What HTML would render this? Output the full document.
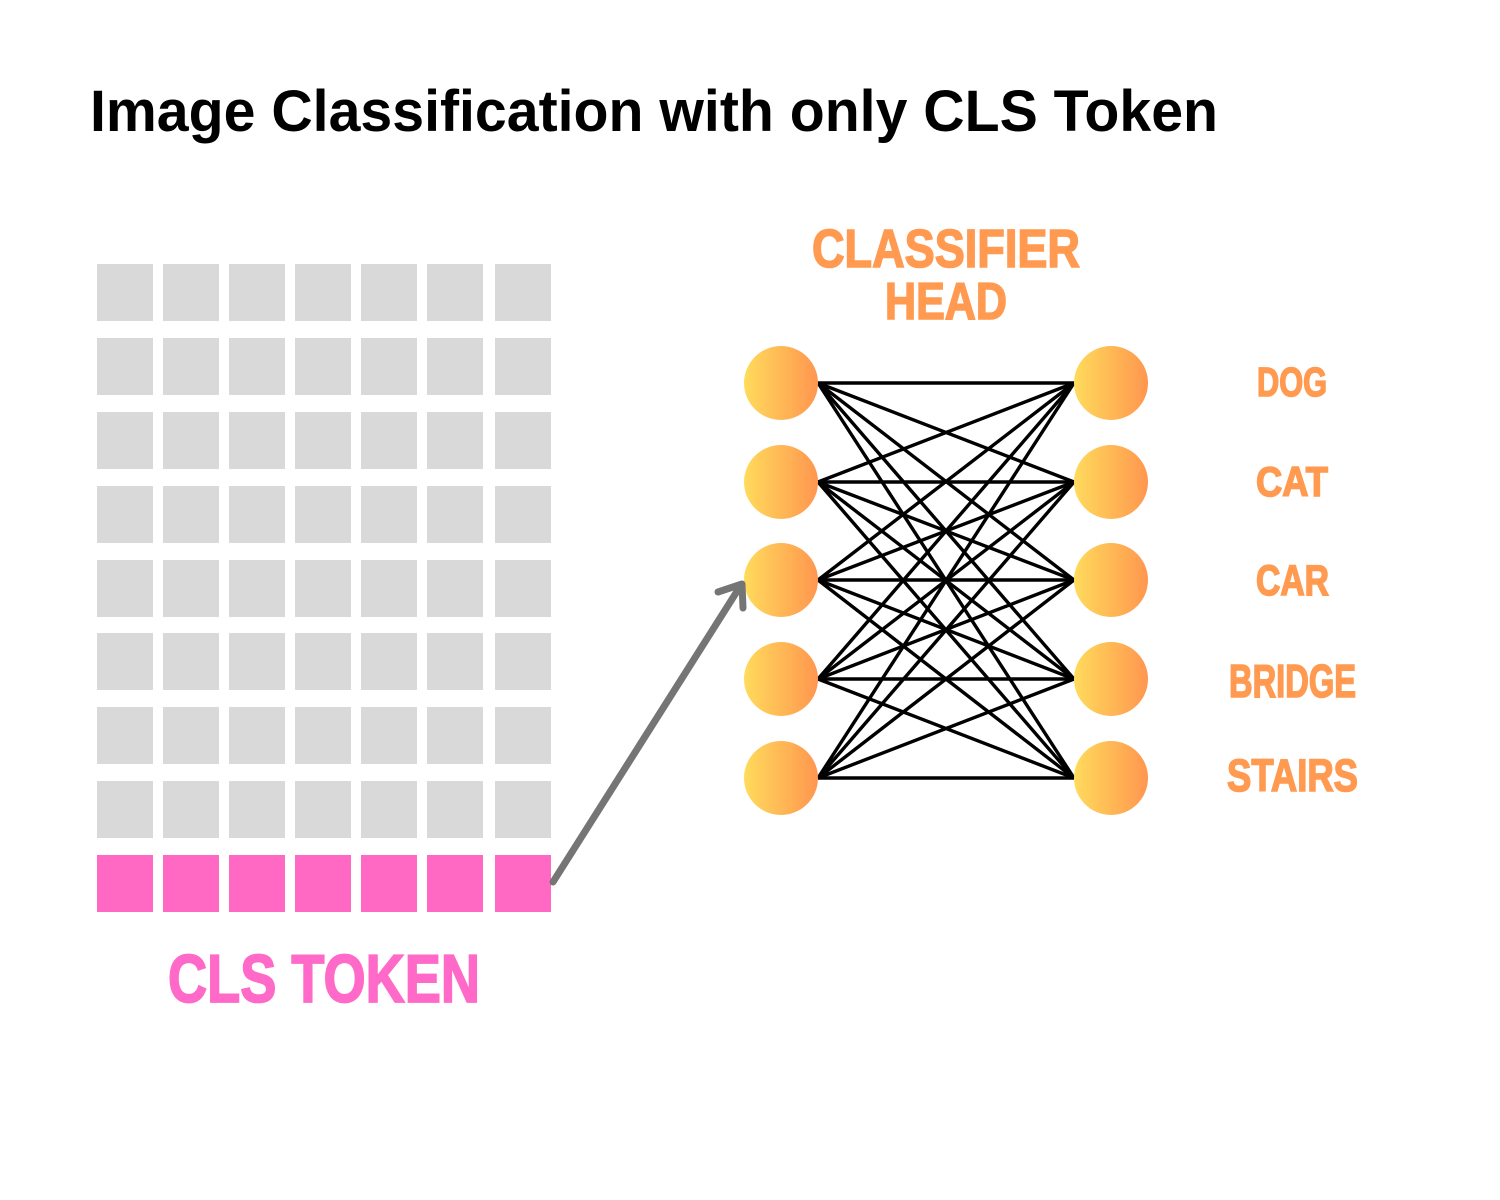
<!DOCTYPE html>
<html><head><meta charset="utf-8"><style>
html,body{margin:0;padding:0;background:#fff;width:1500px;height:1200px;overflow:hidden}
svg{display:block}
text{font-family:"Liberation Sans",sans-serif;font-weight:bold}
</style></head><body>
<svg width="1500" height="1200" viewBox="0 0 1500 1200" xmlns="http://www.w3.org/2000/svg">
<defs>
<linearGradient id="g" x1="0" x2="1" y1="0" y2="0">
<stop offset="0" stop-color="#FFDB5C"/><stop offset="1" stop-color="#FF964F"/>
</linearGradient>
</defs>
<rect width="1500" height="1200" fill="#fff"/>
<text x="90" y="131" font-size="58" fill="#000" textLength="1128" lengthAdjust="spacingAndGlyphs">Image Classification with only CLS Token</text>
<g id="grid"></g>
<g fill="#FF9A50" stroke="#FF9A50" stroke-width="1.6">
<text x="812" y="267" font-size="54" textLength="268" lengthAdjust="spacingAndGlyphs">CLASSIFIER</text>
<text x="885" y="319" font-size="52" textLength="122" lengthAdjust="spacingAndGlyphs">HEAD</text>
<text x="1257" y="396" font-size="41" textLength="70" lengthAdjust="spacingAndGlyphs">DOG</text>
<text x="1256" y="496" font-size="42" textLength="72" lengthAdjust="spacingAndGlyphs">CAT</text>
<text x="1256" y="595" font-size="43" textLength="73" lengthAdjust="spacingAndGlyphs">CAR</text>
<text x="1229" y="697" font-size="46" textLength="127" lengthAdjust="spacingAndGlyphs">BRIDGE</text>
<text x="1227" y="791" font-size="45" textLength="131" lengthAdjust="spacingAndGlyphs">STAIRS</text>
</g>
<text x="168" y="1002" font-size="68" fill="#FF69C8" stroke="#FF69C8" stroke-width="1.8" textLength="312" lengthAdjust="spacingAndGlyphs">CLS TOKEN</text>
<g id="lines" stroke="#000" stroke-width="3.4"></g>
<g id="nodes"></g>
<g stroke="#757575" stroke-width="7" stroke-linecap="round" fill="none">
<line x1="553" y1="882" x2="741" y2="585"/>
<polyline points="718,592 742,584 743,608" stroke-linejoin="round"/>
</g>
<script>
var ns="http://www.w3.org/2000/svg";
var cx=[97,163,229,295,361,427,495];
var ry=[264,338,412,486,560,633,707,781,855];
var g=document.getElementById("grid");
ry.forEach(function(y,i){cx.forEach(function(x){var r=document.createElementNS(ns,"rect");r.setAttribute("x",x);r.setAttribute("y",y);r.setAttribute("width",56);r.setAttribute("height",57);r.setAttribute("fill",i==8?"#FF69C4":"#D9D9D9");g.appendChild(r);});});
var ys=[383,482,580,679,778];
var L=document.getElementById("lines"),N=document.getElementById("nodes");
ys.forEach(function(a){ys.forEach(function(b){var l=document.createElementNS(ns,"line");l.setAttribute("x1",818);l.setAttribute("y1",a);l.setAttribute("x2",1074);l.setAttribute("y2",b);L.appendChild(l);});});
ys.forEach(function(y){[781,1111].forEach(function(x){var c=document.createElementNS(ns,"circle");c.setAttribute("cx",x);c.setAttribute("cy",y);c.setAttribute("r",37);c.setAttribute("fill","url(#g)");N.appendChild(c);});});
</script>
</svg>
</body></html>
